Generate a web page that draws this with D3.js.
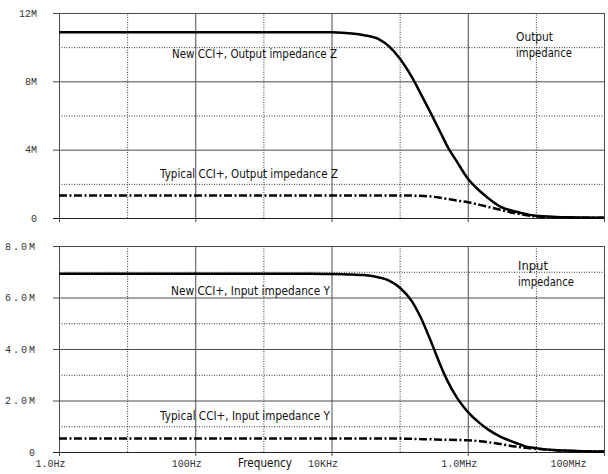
<!DOCTYPE html>
<html>
<head>
<meta charset="utf-8">
<script src="https://cdn.jsdelivr.net/npm/d3@7"></script>
<style>
  body { margin: 0; background: #fff; }
</style>
</head>
<body>
<div id="app"></div>
<script>
// frequency points shared by all four traces (Hz)
const freqHz = [1, 10, 100, 1e3, 5e3, 1e4, 2e4, 3e4, 5e4, 7e4, 1e5, 1.5e5, 2e5, 3e5, 4e5, 5e5,
    7e5, 1e6, 1.5e6, 2e6, 3e6, 5e6, 7e6, 1e7, 2e7, 3e7, 5e7, 1e8];

// impedance values in MOhm
const newZ = [10.88, 10.88, 10.88, 10.88, 10.88, 10.87, 10.8, 10.7, 10.46, 10.05, 9.35, 8.27, 7.34, 5.98,
    4.99, 4.21, 3.27, 2.31, 1.58, 1.16, 0.67, 0.38, 0.24, 0.13, 0.06, 0.04, 0.03, 0.02];
const typicalZ = [1.32, 1.32, 1.32, 1.32, 1.32, 1.32, 1.32, 1.32, 1.32, 1.32, 1.32, 1.31, 1.30, 1.25,
    1.18, 1.12, 1.02, 0.92, 0.77, 0.65, 0.48, 0.27, 0.18, 0.09, 0.04, 0.03, 0.02, 0.02];
const newY = [6.92, 6.92, 6.92, 6.92, 6.92, 6.91, 6.89, 6.87, 6.78, 6.66, 6.39, 5.87, 5.27, 4.18,
    3.35, 2.78, 2.09, 1.56, 1.12, 0.87, 0.6, 0.36, 0.22, 0.15, 0.07, 0.05, 0.03, 0.02];
const typicalY = [0.52, 0.52, 0.52, 0.52, 0.52, 0.52, 0.52, 0.52, 0.52, 0.52, 0.52, 0.51, 0.5, 0.49,
    0.48, 0.475, 0.465, 0.455, 0.42, 0.38, 0.31, 0.21, 0.16, 0.12, 0.07, 0.045, 0.03, 0.02];

// axis ticks
const freqMajor = [1, 100, 1e4, 1e6, 1e8];
const freqMinor = [10, 1e3, 1e5, 1e7];
const freqLabels = ['1.0Hz', '100Hz', '10KHz', '1.0MHz', '100MHz'];
const zMajor = [0, 4, 8, 12];
const zMinor = [2, 6, 10];
const zLabels = ['0', '4M', '8M', '12M'];
const yMajor = [0, 2, 4, 6, 8];
const yMinor = [1, 3, 5, 7];
const yLabels = ['0', '2.0M', '4.0M', '6.0M', '8.0M'];

const width = 608;
const height = 474;
const left = 59, right = 604;

const svg = d3.select('#app').append('svg')
    .attr('width', width)
    .attr('height', height)
    .style('background', '#fff');

const x = d3.scaleLog().domain([1, 1e8]).range([left, right]);
const yTop = d3.scaleLinear().domain([0, 12]).range([218, 13]);
const yBot = d3.scaleLinear().domain([0, 8]).range([452, 246]);

const gridColor = '#4a4a4a';
const dotColor = '#333';

function drawPanel(yScale, major, minor, labels, showX, spacing) {
    const [y0, y1] = yScale.range();
    const g = svg.append('g');

    // dotted horizontal grid
    g.append('g')
        .attr('transform', `translate(${left},0)`)
        .call(d3.axisLeft(yScale).tickValues(minor).tickSize(-(right - left)).tickFormat(''))
        .call(a => a.select('.domain').remove())
        .selectAll('.tick line')
        .attr('stroke', dotColor)
        .attr('stroke-dasharray', '1,1.5');

    // dotted vertical grid
    g.append('g')
        .attr('transform', `translate(0,${y0})`)
        .call(d3.axisBottom(x).tickValues(freqMinor).tickSize(-(y0 - y1)).tickFormat(''))
        .call(a => a.select('.domain').remove())
        .selectAll('.tick line')
        .attr('stroke', dotColor)
        .attr('stroke-dasharray', '1,1.5');

    // solid vertical grid + bottom ticks
    const xa = g.append('g')
        .attr('transform', `translate(0,${y0})`)
        .call(d3.axisBottom(x).tickValues(freqMajor)
            .tickFormat((d, i) => showX ? freqLabels[i] : ''))
        .call(a => a.select('.domain').remove());
    xa.selectAll('.tick line')
        .attr('y1', -(y0 - y1))
        .attr('y2', 4)
        .attr('stroke', gridColor);
    xa.selectAll('.tick text')
        .attr('y', 8)
        .attr('dx', -9)
        .attr('fill', '#333')
        .attr('font-family', 'Liberation Mono, monospace')
        .attr('font-size', '10px');
    xa.selectAll('.tick text').filter((d, i) => i === freqMajor.length - 1)
        .attr('text-anchor', 'end')
        .attr('dx', -18);

    // solid horizontal grid + left ticks
    const ya = g.append('g')
        .attr('transform', `translate(${left},0)`)
        .call(d3.axisLeft(yScale).tickValues(major).tickFormat((d, i) => labels[i]))
        .call(a => a.select('.domain').remove());
    ya.selectAll('.tick line')
        .attr('x1', -6)
        .attr('x2', right - left)
        .attr('stroke', d => d === 0 ? '#222' : gridColor);
    ya.selectAll('.tick text')
        .attr('x', -22)
        .attr('fill', '#333')
        .attr('font-family', 'Liberation Mono, monospace')
        .attr('font-size', '10px')
        .attr('letter-spacing', spacing);
    return g;
}

drawPanel(yTop, zMajor, zMinor, zLabels, false, '0px');
drawPanel(yBot, yMajor, yMinor, yLabels, true, '2px');

// traces
function trace(yScale, values, dashed) {
    const line = d3.line()
        .x((d, i) => x(freqHz[i]))
        .y(d => yScale(d))
        .curve(d3.curveMonotoneX);
    svg.append('path')
        .datum(values)
        .attr('d', line)
        .attr('fill', 'none')
        .attr('stroke', '#000')
        .attr('stroke-width', 2.5)
        .attr('stroke-dasharray', dashed ? '8,2.5,2,2.5' : null);
}

trace(yTop, typicalZ, true);
trace(yTop, newZ, false);
trace(yBot, typicalY, true);
trace(yBot, newY, false);

// annotations
const notes = [
    { t: 'New CCI+, Output impedance Z', x: 172, y: 58, w: 165 },
    { t: 'Typical CCI+, Output impedance Z', x: 160, y: 178, w: 178 },
    { t: 'Output', x: 516, y: 41, w: 37 },
    { t: 'impedance', x: 516, y: 57, w: 56 },
    { t: 'New CCI+, Input impedance Y', x: 171, y: 295, w: 159 },
    { t: 'Typical CCI+, Input impedance Y', x: 160, y: 420, w: 170 },
    { t: 'Input', x: 518, y: 270, w: 30 },
    { t: 'impedance', x: 518, y: 286, w: 56 },
    { t: 'Frequency', x: 238, y: 467, w: 54 }
];

svg.append('g')
    .selectAll('text')
    .data(notes)
    .join('text')
    .attr('x', d => d.x)
    .attr('y', d => d.y)
    .attr('textLength', d => d.w)
    .attr('lengthAdjust', 'spacingAndGlyphs')
    .attr('font-family', 'DejaVu Sans, sans-serif')
    .attr('font-size', '12px')
    .attr('fill', '#111')
    .text(d => d.t);
</script>
</body>
</html>
